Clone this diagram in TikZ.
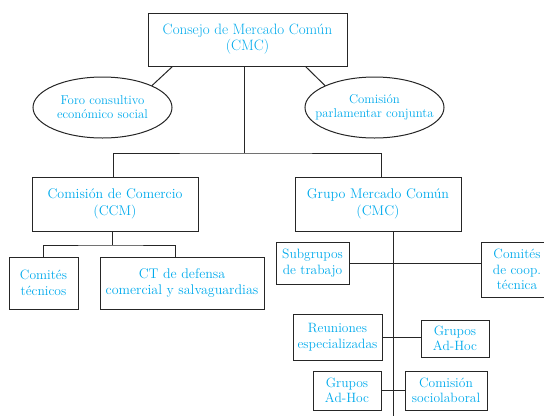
\documentclass[tikz,border=0pt]{standalone}
\usetikzlibrary{shapes.geometric}
\definecolor{mcyan}{RGB}{0,170,236}
\begin{document}
\begin{tikzpicture}[x=1pt,y=-1pt]
	\tikzset{
		box/.style={draw=black!85,line width=1pt,rectangle,align=center,text=mcyan,inner sep=1pt,font=\fontsize{14}{16.5}\selectfont},
		smallbox/.style={box,font=\fontsize{13.5}{15.5}\selectfont},
		oval/.style={draw=black!85,line width=1pt,ellipse,align=center,text=mcyan,inner xsep=-12pt,inner ysep=0pt,font=\fontsize{12.8}{14}\selectfont},
		link/.style={draw=black!85,line width=1pt}
	}
	\useasboundingbox (0,0) rectangle (544,416);
	\node[box,font=\fontsize{15}{16}\selectfont,minimum width=199,minimum height=53] (cmc) at (247.5,39.5) {Consejo de Mercado Común\\(CMC)};
	\node[oval,minimum width=139,minimum height=61] (foro) at (102.5,107.5) {Foro consultivo\\económico social};
	\node[oval,minimum width=139,minimum height=61] (parl) at (374.5,107.5) {Comisión\\parlamentar conjunta};
	\node[box,minimum width=166,minimum height=54] (ccm) at (115,204) {Comisión de Comercio\\(CCM)};
	\node[box,minimum width=166,minimum height=54] (gmc) at (378,204) {Grupo Mercado Común\\(CMC)};
	\node[smallbox,minimum width=69,minimum height=52] (ctec) at (43.5,283) {Comités\\técnicos};
	\node[box,minimum width=164,minimum height=52] (ctdef) at (182,283) {CT de defensa\\comercial y salvaguardias};
	\node[smallbox,minimum width=73,minimum height=42] (subg) at (312.5,263) {Subgrupos\\de trabajo};
	\node[smallbox,minimum width=72,minimum height=55] (coop) at (517,269.5) {Comités\\de coop.\\técnica};
	\node[smallbox,minimum width=89,minimum height=46] (reun) at (337.5,337) {Reuniones\\especializadas};
	\node[smallbox,minimum width=68,minimum height=37] (adhoca) at (455,338.5) {Grupos\\Ad-Hoc};
	\node[smallbox,minimum width=68,minimum height=39] (adhocb) at (347,390.5) {Grupos\\Ad-Hoc};
	\node[smallbox,minimum width=82,minimum height=39] (socio) at (446,390.5) {Comisión\\sociolaboral};
	\coordinate (split) at ([xshift=-3pt]cmc.south |- 0,153);
	\coordinate (ccmsplit) at ([xshift=-3pt]ccm.south |- 0,245);
	\coordinate (trunk) at ([xshift=15pt]gmc.south);
	\coordinate (trunkend) at (trunk |- 0,416);
	\draw[link] ([xshift=25pt]cmc.south west) -- (foro.north east);
	\draw[link] ([xshift=-42pt]cmc.south east) -- (parl.north west);
	\draw[link] ([xshift=-3pt]cmc.south) -- (split);
	\draw[link] ([xshift=-2pt]ccm.north) |- (split) -| ([xshift=3pt]gmc.north);
	\draw[link] ([xshift=-3pt]ccm.south) -- (ccmsplit);
	\draw[link] (ctec.north) |- (ccmsplit) -| ([xshift=-7pt]ctdef.north);
	\draw[link] (trunk) -- (trunkend);
	\draw[link] (subg.east) -- (subg.east -| coop.west);
	\draw[link] (reun.east) -- (reun.east -| adhoca.west);
	\draw[link] (adhocb.east) -- (socio.west);
\end{tikzpicture}
\end{document}
